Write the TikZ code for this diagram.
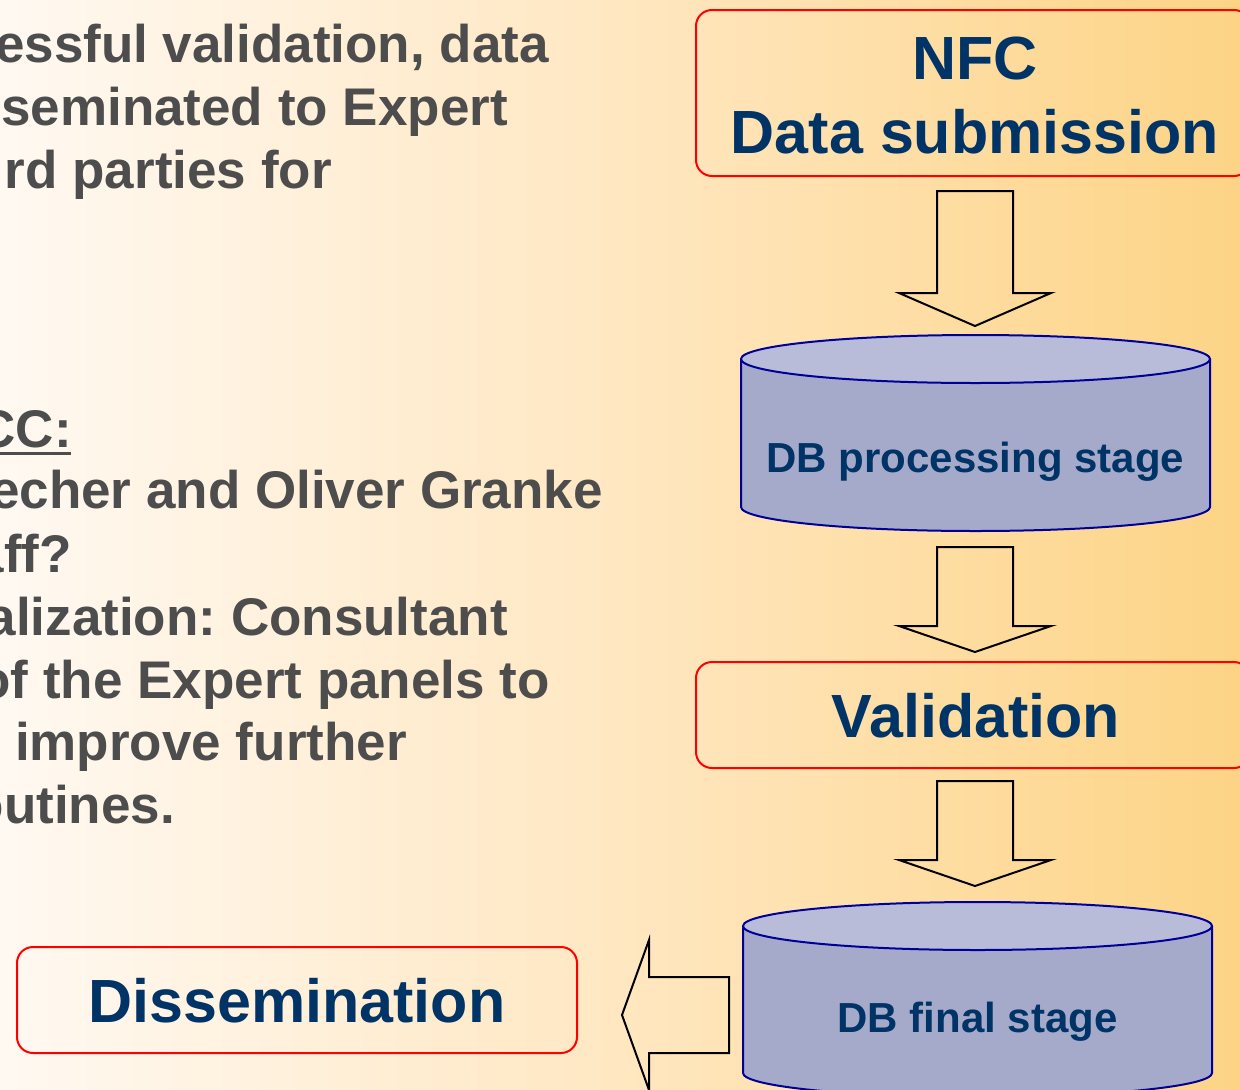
\documentclass[tikz,border=0pt]{standalone}
\usepackage{fontspec}
\setmainfont{Liberation Sans}
\frenchspacing
\definecolor{bgl}{RGB}{255,249,242}
\definecolor{bgm}{RGB}{255,231,193}
\definecolor{bgr}{RGB}{253,212,134}
\definecolor{greytxt}{RGB}{77,77,77}
\definecolor{navy}{RGB}{0,51,102}
\definecolor{boxred}{RGB}{255,0,0}
\definecolor{dbtop}{RGB}{184,188,216}
\definecolor{dbbody}{RGB}{166,170,202}
\definecolor{dbline}{RGB}{0,0,153}
\pgfdeclarehorizontalshading{bgshade}{100bp}{color(0bp)=(bgl); color(25bp)=(bgl); color(50bp)=(bgm); color(75bp)=(bgr); color(100bp)=(bgr)}
\begin{document}
\begin{tikzpicture}[x=1pt,y=1pt,
  lefttext/.style={anchor=base east, text=greytxt, font=\bfseries\fontsize{53}{63}\selectfont, inner sep=0pt},
  bigtext/.style={anchor=base, text=navy, font=\bfseries\fontsize{61}{72}\selectfont, inner sep=0pt},
  dbtext/.style={anchor=base, text=navy, font=\bfseries\fontsize{42}{50}\selectfont, inner sep=0pt},
  redbox/.style={draw=boxred, line width=2pt, rounded corners=16pt, inner sep=0pt},
  blockarrow/.style={draw=black, line width=2pt, line join=miter},
  dboutline/.style={draw=dbline, line width=2pt},
]
\clip (0,0) rectangle (1240,-1090);
\shade[shading=bgshade] (0,0) rectangle (1240,-1090);

% left text, upper group
\node[lefttext] (t1) at (549,-62) {essful validation, data};
\node[lefttext] (t2) at (508,-125) {seminated to Expert};
\node[lefttext] (t3) at (332,-188) {rd parties for};

% left text, lower group
\node[lefttext] (u1) at (72,-447) {CC:};
\draw[greytxt, line width=3pt] (0,-453) -- (71,-453);
\node[lefttext] (u2) at (603,-508) {echer and Oliver Granke};
\node[lefttext] (u3) at (72,-572) {aff?};
\node[lefttext] (u4) at (508,-635) {alization: Consultant};
\node[lefttext] (u5) at (550,-698) {of the Expert panels to};
\node[lefttext] (u6) at (407,-760) {improve further};
\node[lefttext] (u7) at (175,-823) {outines.};

% NFC box
\node[redbox, minimum width=554pt, minimum height=166pt] (nfcbox) at (973,-93) {};
\node[bigtext] (nfc1) at (975,-79) {NFC};
\node[bigtext] (nfc2) at (975,-153) {Data submission};

% arrow 1
\draw[blockarrow] (937,-191) -- (1013,-191) -- (1013,-293) -- (1051,-293) -- (975,-326) -- (899,-293) -- (937,-293) -- cycle;

% cylinder 1
\fill[dbbody] (741,-359) -- (741,-507) arc[start angle=180, end angle=360, x radius=234.5pt, y radius=24pt] -- (1210,-359) -- cycle;
\draw[dboutline] (741,-359) -- (741,-507) arc[start angle=180, end angle=360, x radius=234.5pt, y radius=24pt] -- (1210,-359);
\draw[dboutline, fill=dbtop] (975.5,-359) ellipse[x radius=234.5pt, y radius=24pt];
\node[dbtext] (db1) at (975.5,-472) {DB processing stage};

% arrow 2
\draw[blockarrow] (937,-547) -- (1013,-547) -- (1013,-626) -- (1051,-626) -- (975,-652) -- (899,-626) -- (937,-626) -- cycle;

% Validation box
\node[redbox, minimum width=554pt, minimum height=106pt] (valbox) at (973,-715) {};
\node[bigtext] (val) at (976,-737) {Validation};

% arrow 3
\draw[blockarrow] (937,-781) -- (1013,-781) -- (1013,-860) -- (1051,-860) -- (975,-886) -- (899,-860) -- (937,-860) -- cycle;

% cylinder 2
\fill[dbbody] (743,-926) -- (743,-1073) arc[start angle=180, end angle=360, x radius=234.5pt, y radius=24pt] -- (1212,-926) -- cycle;
\draw[dboutline] (743,-926) -- (743,-1073) arc[start angle=180, end angle=360, x radius=234.5pt, y radius=24pt] -- (1212,-926);
\draw[dboutline, fill=dbtop] (977.5,-926) ellipse[x radius=234.5pt, y radius=24pt];
\node[dbtext] (db2) at (977.5,-1032) {DB final stage};

% left arrow
\draw[blockarrow] (729,-977) -- (729,-1053) -- (649,-1053) -- (649,-1090) -- (622,-1015) -- (649,-940) -- (649,-977) -- cycle;

% Dissemination box
\node[redbox, minimum width=560pt, minimum height=106pt] (disbox) at (297,-1000) {};
\node[bigtext] (dis) at (297,-1022) {Dissemination};
\end{tikzpicture}
\end{document}
